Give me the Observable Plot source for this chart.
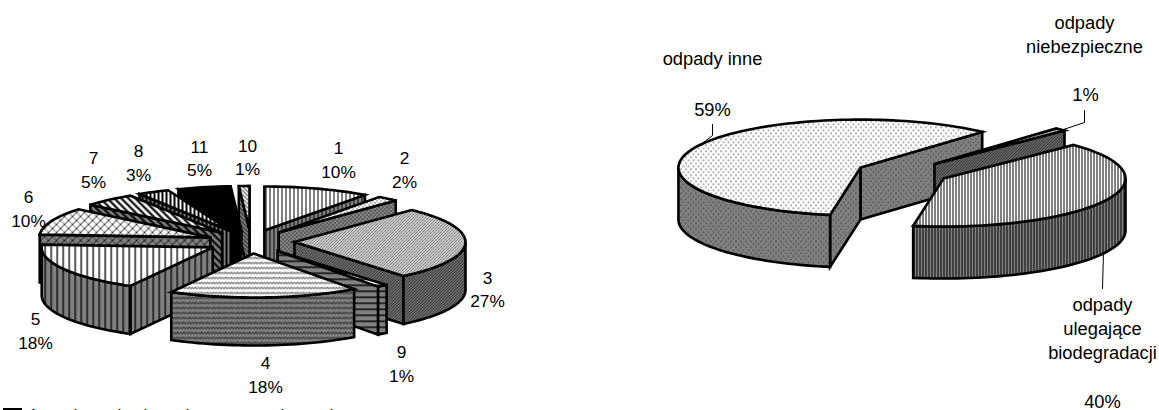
<!DOCTYPE html>
<html><head><meta charset="utf-8">
<script src="https://cdn.jsdelivr.net/npm/d3@7"></script>
<script src="https://cdn.jsdelivr.net/npm/@observablehq/plot@0.6"></script>
<style>html,body{margin:0;padding:0;background:#fff;overflow:hidden}svg{display:block}</style>
</head><body><div id="chart"></div>
<script>
// Data, clockwise from 12 o'clock
const leftNames  = ["1","2","3","9","4","5","6","7","8","11","10"];
const leftValues = [10,2,27,1,18,18,10,5,3,5,1];
const leftDrawOrder = ["10","1","11","8","2","7","6","3","5","9","4"];
const rightNames  = ["odpady niebezpieczne","odpady ulegające biodegradacji","odpady inne"];
const rightValues = [1,40,59];
const rightDrawOrder = ["odpady inne","odpady niebezpieczne","odpady ulegające biodegradacji"];
const legendGlyphs = ["1","l","l","l","l","l","l"];

// Layout
const leftPie  = {cx:250.4,cy:241.2,rx:171,ry:44,depth:48,ex:43.6,ey:11.8,start:0};
const rightPie = {cx:901.8,cy:172.4,rx:182,ry:48,depth:52,ex:46.5,ey:12.2,start:42};
const leftFill = {"1":"a","2":"b","3":"c","9":"i","4":"d","5":"e","6":"f","7":"g","8":"h","11":"k","10":"j"};
const rightFill = {"odpady niebezpieczne":"m","odpady ulegające biodegradacji":"n","odpady inne":"l"};
const leftLabelAt = {"1":[338,153,177],"2":[404,163,187],"3":[487,283,306],"9":[401,357,381],"4":[265,368,392],
  "5":[35,324,348],"6":[28,202,226],"7":[93,163,187],"8":[138,156,180],"11":[199,152,175],"10":[247,151,174]};
const legendX = [33,75,119,145,187,282,331];

const patterns = {
  a:[4,4,'<rect x="1" width="1" height="4" fill="#000"/>'],
  b:[4,4,'<rect x="0" y="0" width="1" height="1" fill="#000"/><rect x="2" y="2" width="1" height="1" fill="#000"/>'],
  c:[3,3,'<path d="M0 3L3 0M-1 1L1 -1M2 4L4 2" stroke="#000" stroke-width=".9"/>'],
  d:[6,5,'<path d="M0 1.5L1.5 3.5L3 1.5L4.5 3.5L6 1.5" stroke="#000" stroke-width=".8" fill="none"/>'],
  e:[6,6,'<rect x="2" width="1.3" height="6" fill="#000"/>'],
  f:[8,8,'<path d="M0 8L8 0M-2 2L2 -2M6 10L10 6" stroke="#000" stroke-width=".9"/><path d="M0 0L8 8" stroke="#000" stroke-width=".6"/>'],
  g:[7,7,'<path d="M0 0L7 7M-2 5L2 9M5 -2L9 2" stroke="#000" stroke-width="2.2"/>'],
  h:[4,4,'<rect x="1" width="2" height="4" fill="#000"/>'],
  i:[6,6,'<rect y="2" width="6" height="1.4" fill="#000"/>'],
  j:[4,4,'<path d="M0 0L4 4" stroke="#000" stroke-width="1"/>'],
  k:[4,4,'<rect width="4" height="4" fill="#000"/>'],
  l:[5,6,'<rect x="0" y="0" width="1" height="1.5" fill="#333"/><rect x="2.5" y="3" width="1" height="1.5" fill="#333"/>'],
  m:[3,3,'<path d="M0 3L3 0M-1 1L1 -1M2 4L4 2" stroke="#000" stroke-width="1"/>'],
  n:[3,3,'<rect x="1" width="1" height="3" fill="#000"/>']
};
const wallGray = "#808080";

function patternDefs() {
  const defs = d3.create("svg:defs");
  for (const [id,[w,h,body]] of Object.entries(patterns)) {
    for (const [suffix,bg] of [["t","#fff"],["w",wallGray]]) {
      defs.append("pattern").attr("id",id+suffix).attr("width",w).attr("height",h)
        .attr("patternUnits","userSpaceOnUse")
        .html(`<rect width="${w}" height="${h}" fill="${bg}"/>${body}`);
    }
  }
  return defs.node();
}

function slices(names, values, pie) {
  const total = d3.sum(values); let a = pie.start;
  return names.map((name,i) => {
    const b = a + values[i]/total*360, mid = (a+b)/2*Math.PI/180;
    const s = {name, value:values[i], a, b,
      ax: pie.cx + pie.ex*Math.sin(mid), ay: pie.cy - pie.ey*Math.cos(mid)};
    a = b; return s;
  });
}
function rim(s, pie, deg, dz=0) {
  const t = deg*Math.PI/180;
  return {x:s.ax + pie.rx*Math.sin(t), y:s.ay - pie.ry*Math.cos(t) + dz};
}
function arc(s, pie, from, to, dz=0) {
  const n = Math.max(1, Math.ceil(Math.abs(to-from)/2));
  return d3.range(n+1).map(i => rim(s, pie, from+(to-from)*i/n, dz));
}
function polygons(names, values, pie, fills, order) {
  const list = slices(names, values, pie);
  const out = [];
  for (const name of order) {
    const s = list.find(d => d.name === name), key = fills[name];
    const apex = {x:s.ax,y:s.ay}, low = {x:s.ax,y:s.ay+pie.depth}, wall = `url(#${key}w)`;
    if (Math.sin(s.b*Math.PI/180) > 0) {
      const p = rim(s,pie,s.b), q = rim(s,pie,s.b,pie.depth);
      out.push({pts:[apex,p,q,low],fill:wall});
    }
    if (Math.sin(s.a*Math.PI/180) < 0) {
      const p = rim(s,pie,s.a), q = rim(s,pie,s.a,pie.depth);
      out.push({pts:[apex,p,q,low],fill:wall});
    }
    const from = Math.max(s.a,90), to = Math.min(s.b,270);
    if (to > from) out.push({pts:[...arc(s,pie,from,to),...arc(s,pie,to,from,pie.depth)],fill:wall});
    out.push({pts:[apex,...arc(s,pie,s.a,s.b)],fill:`url(#${key}t)`});
  }
  return out;
}

const polys = [
  ...polygons(leftNames,leftValues,leftPie,leftFill,leftDrawOrder),
  ...polygons(rightNames,rightValues,rightPie,rightFill,rightDrawOrder)
];
const leftLabels = leftNames.flatMap((n,i) => {
  const [x,y1,y2] = leftLabelAt[n];
  return [{x,y:y1,t:n},{x,y:y2,t:leftValues[i]+"%"}];
});
const rightLabels = [
  {x:1084,y:28,t:"odpady"},{x:1084,y:52,t:"niebezpieczne"},{x:1085,y:100,t:rightValues[0]+"%"},
  {x:1102,y:310,t:"odpady"},{x:1102,y:334,t:"ulegające"},{x:1102,y:358,t:"biodegradacji"},{x:1102,y:407,t:rightValues[1]+"%"},
  {x:712,y:64,t:"odpady inne"},{x:712,y:115,t:rightValues[2]+"%"}
];
const leaders = [
  [{x:712,y:124},{x:712,y:135},{x:703,y:142}],
  [{x:1084,y:110},{x:1084,y:122},{x:1063,y:129}],
  [{x:1102,y:288},{x:1103,y:252}]
];
const legendRows = legendGlyphs.map((t,i) => ({x:legendX[i],t}));

const textOpts = {x:"x",y:"y",text:"t",fill:"#000",textAnchor:"middle",lineAnchor:"bottom"};
const chart = Plot.plot({
  width:1159,height:410,margin:0,
  style:{fontFamily:"'Liberation Sans',Arial,sans-serif",background:"#fff"},
  x:{domain:[0,1159],range:[0,1159],axis:null},
  y:{domain:[0,410],range:[0,410],axis:null},
  marks:[
    patternDefs,
    ...polys.map(p => Plot.line(p.pts,{x:"x",y:"y",curve:"linear-closed",fill:p.fill,stroke:"#000",
      strokeWidth:2.6,strokeLinejoin:"miter",strokeMiterlimit:4})),
    ...leaders.map(l => Plot.line(l,{x:"x",y:"y",stroke:"#000",strokeWidth:1})),
    Plot.text(leftLabels,{...textOpts,fontSize:17.3}),
    Plot.text(rightLabels,{...textOpts,fontSize:18.3}),
    Plot.rect([{x1:4,x2:21,y1:409,y2:425}],{x1:"x1",x2:"x2",y1:"y1",y2:"y2",fill:"#fff",stroke:"#000",strokeWidth:2}),
    Plot.text(legendRows,{x:"x",y:()=>420.5,text:"t",fill:"#000",fontSize:17,textAnchor:"middle",lineAnchor:"bottom"})
  ]
});
document.getElementById("chart").append(chart);
</script></body></html>
